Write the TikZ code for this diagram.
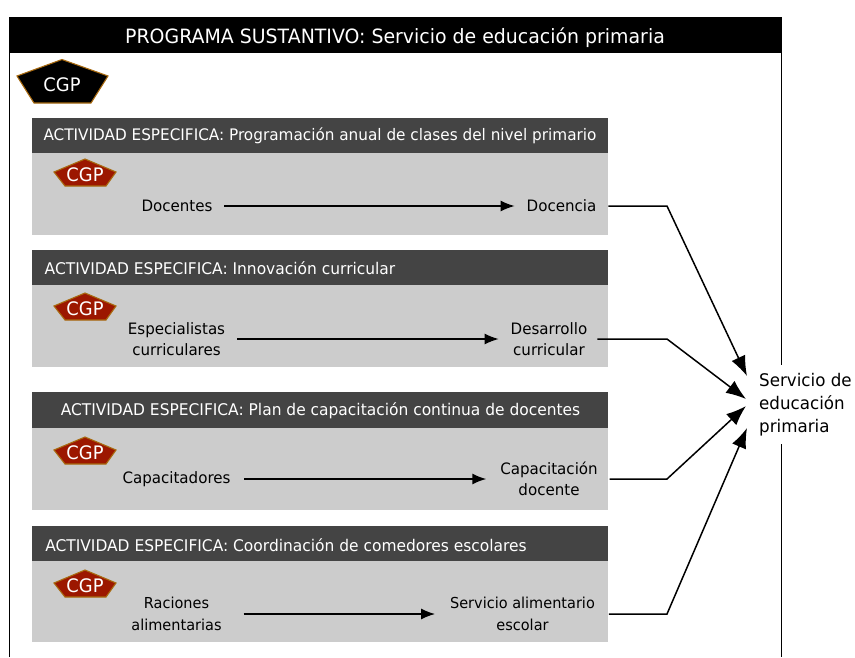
\documentclass[tikz,border=0pt]{standalone}
\usepackage{fontspec}
\setmainfont[FakeStretch=0.96]{DejaVu Sans}
\usetikzlibrary{arrows.meta}
\definecolor{hdr}{HTML}{444444}
\definecolor{bodyg}{HTML}{CCCCCC}
\definecolor{cgpred}{HTML}{9C1700}
\definecolor{cgpedge}{HTML}{A86A10}
\tikzset{
  frameline/.style={draw=black,line width=1.2pt},
  titlebar/.style={fill=black,draw=none},
  headbar/.style={fill=hdr,draw=none},
  bodybar/.style={fill=bodyg,draw=none},
  titletext/.style={text=white,font=\fontsize{19.7}{23}\selectfont,inner sep=0pt},
  headtext/.style={text=white,font=\fontsize{16.1}{18}\selectfont,inner sep=0pt},
  label/.style={text=black,font=\fontsize{15.7}{21.5}\selectfont,align=center,inner ysep=0pt,inner xsep=12pt,outer sep=0pt},
  cgpbig/.style={fill=black,draw=cgpedge,line width=1.1pt,line join=miter},
  cgpsmall/.style={fill=cgpred,draw=cgpedge,line width=1.1pt,line join=miter},
  cgptext/.style={text=white,font=\fontsize{18.6}{20}\selectfont,inner sep=0pt},
  flow/.style={draw=black,line width=1.5pt,-{Latex[length=14pt,width=11pt]}},
  outflow/.style={draw=black,line width=1.5pt,-{Latex[length=20pt,width=15pt]},line join=miter},
}
\newcommand{\smallcgp}[2]{%
  \draw[cgpsmall] (#1+31,#2-13) -- (#1+62,#2) -- (#1+52,#2+14) -- (#1+11,#2+14) -- (#1,#2) -- cycle;
}
\newcommand{\activity}[3]{%
  \fill[bodybar] (32,#1) rectangle (608,#3);
  \fill[headbar] (32,#1) rectangle (608,#2);
}
\begin{document}
\begin{tikzpicture}[x=1pt,y=-1pt]
\useasboundingbox (0,0) rectangle (855,657);
\draw[frameline] (9.5,657) -- (9.5,17.5) -- (781.5,17.5) -- (781.5,657);
\fill[titlebar] (9,17) rectangle (782,53);
\node[titletext] (title) at (395,37.5) {PROGRAMA SUSTANTIVO: Servicio de educación primaria};
\draw[cgpbig] (62,59.5) -- (108,76) -- (91,103) -- (34,103) -- (17,76) -- cycle;
\node[cgptext] (cgp0) at (62,85) {CGP};

\activity{118}{153}{235}
\node[headtext,font=\fontsize{15.9}{18}\selectfont] (h1) at (320,136) {ACTIVIDAD ESPECIFICA: Programación anual de clases del nivel primario};
\smallcgp{54}{172}
\node[cgptext] (c1) at (85,174.5) {CGP};
\node[label] (a1) at (177,206) {Docentes};
\node[label] (b1) at (561.5,206) {Docencia};

\activity{250}{285}{367}
\node[headtext] (h2) at (220,268.5) {ACTIVIDAD ESPECIFICA: Innovación curricular};
\smallcgp{54}{306}
\node[cgptext] (c2) at (85,309) {CGP};
\node[label] (a2) at (176.5,339) {Especialistas\\curriculares};
\node[label] (b2) at (549,339) {Desarrollo\\curricular};

\activity{392}{428}{510}
\node[headtext] (h3) at (320.5,410.5) {ACTIVIDAD ESPECIFICA: Plan de capacitación continua de docentes};
\smallcgp{54}{450}
\node[cgptext] (c3) at (85,453) {CGP};
\node[label] (a3) at (176.5,479) {Capacitadores};
\node[label] (b3) at (549,479) {Capacitación\\docente};

\activity{526}{561}{642}
\node[headtext] (h4) at (286,545) {ACTIVIDAD ESPECIFICA: Coordinación de comedores escolares};
\smallcgp{54}{583}
\node[cgptext] (c4) at (85,585.5) {CGP};
\node[label,font=\fontsize{15.1}{21.5}\selectfont] (a4) at (176.5,614) {Raciones\\alimentarias};
\node[label,font=\fontsize{15.1}{21.5}\selectfont] (b4) at (522.5,614) {Servicio alimentario\\escolar};

\node[fill=white,inner xsep=0pt,inner ysep=8pt,text=black,font=\fontsize{17.4}{23}\selectfont,align=left,anchor=west] (svc) at (759,404.5) {Servicio de\\educación\\primaria};

\draw[flow] (a1.east) -- (b1.west);
\draw[flow] (a2.east) -- (b2.west);
\draw[flow,shorten <=2pt,shorten >=2pt] (a3.east) -- (b3.west);
\draw[flow,shorten <=10pt,shorten >=3pt] (a4.east) -- (b4.west);

\coordinate (k1) at (667,206);
\coordinate (k2) at (667,339);
\coordinate (k3) at (667,479);
\coordinate (k4) at (667,614);
\coordinate (e1) at (747,376);
\coordinate (e2) at (746,399);
\coordinate (e3) at (746,406);
\coordinate (e4) at (747,428);
\draw[outflow] (b1.east) -- (k1) -- (e1);
\draw[outflow,shorten <=-2pt] (b2.east) -- (k2) -- (e2);
\draw[outflow] (b3.east) -- (k3) -- (e3);
\draw[outflow,shorten <=2pt] (b4.east) -- (k4) -- (e4);
\end{tikzpicture}
\end{document}
